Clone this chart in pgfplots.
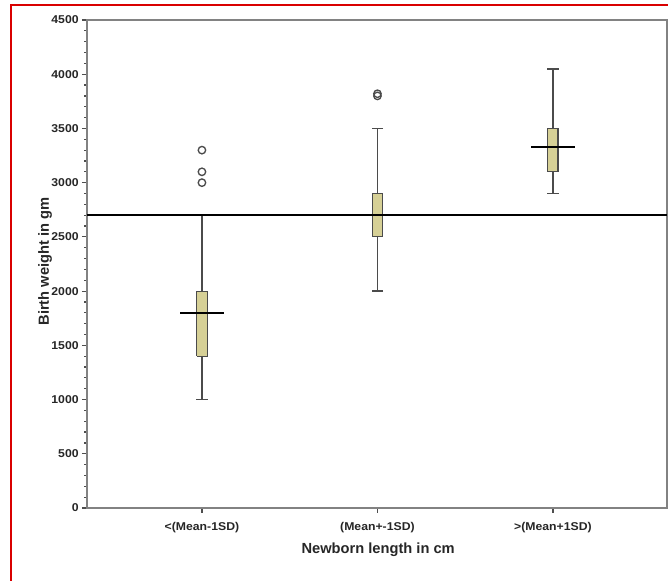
\documentclass[border=0pt]{standalone}
\usepackage{pgfplots}
\pgfplotsset{compat=1.18}
\usepackage{fontspec}
\setmainfont{Liberation Sans}
\definecolor{boxfill}{RGB}{214,208,150}
\definecolor{axgray}{RGB}{130,130,130}
\definecolor{whisk}{RGB}{75,75,75}
\begin{document}
\begin{tikzpicture}
\begin{axis}[
    scale only axis,
    width=435pt, height=366pt,
    xmin=0.345, xmax=3.65,
    ymin=0, ymax=4500,
    xtick={1,2,3},
    xticklabels={<(Mean-1SD), (Mean+-1SD), >(Mean+1SD)},
    ytick={0,500,...,4500},
    minor y tick num=4,
    xtick pos=bottom, ytick pos=left,
    tick align=outside,
    major tick length=3.75pt,
    minor tick length=2.2pt,
    every tick/.style={axgray!60!black, line width=0.9pt},
    axis line style={axgray, line width=1.3pt},
    /pgf/number format/assume math mode=true,
    /pgf/number format/1000 sep={},
    tick label style={font=\fontsize{8.5}{9}\selectfont\bfseries, text=black!85, xscale=1.08},
    yticklabel style={xshift=1.2pt},
    xticklabel style={yshift=-3.5pt},
    xlabel={Newborn length in cm},
    ylabel={Birth weight in gm},
    xlabel style={font=\fontsize{11}{13}\selectfont\bfseries, text=black!85, at={(axis description cs:0.502,0)}, anchor=center, yshift=-31pt},
    ylabel style={font=\fontsize{11}{13}\selectfont\bfseries, text=black!85, at={(axis description cs:0,0.505)}, anchor=center, yshift=31.5pt},
    clip=false,
]
% whiskers (low part, high part) for each group
\addplot[whisk, line width=1.3pt] coordinates {(1,1000) (1,1400)};
\addplot[whisk, line width=1.3pt] coordinates {(1,2000) (1,2700)};
\addplot[whisk, line width=1.3pt] coordinates {(2,2000) (2,2500)};
\addplot[whisk, line width=1.3pt] coordinates {(2,2900) (2,3500)};
\addplot[whisk, line width=1.3pt] coordinates {(3,2900) (3,3100)};
\addplot[whisk, line width=1.3pt] coordinates {(3,3500) (3,4050)};
% whisker caps
\addplot[only marks, mark=-, mark size=4.2pt, mark options={whisk, line width=1.3pt}]
    coordinates {(1,1000) (2,2000) (2,3500) (3,2900) (3,4050)};
% boxes (quartiles)
\addplot[draw=whisk, fill=boxfill, line width=0.8pt]
    coordinates {(0.971,1400) (1.029,1400) (1.029,2000) (0.971,2000) (0.971,1400)};
\addplot[draw=whisk, fill=boxfill, line width=0.8pt]
    coordinates {(1.971,2500) (2.029,2500) (2.029,2900) (1.971,2900) (1.971,2500)};
\addplot[draw=whisk, fill=boxfill, line width=0.8pt]
    coordinates {(2.971,3100) (3.029,3100) (3.029,3500) (2.971,3500) (2.971,3100)};
% outliers
\addplot[only marks, mark=o, mark size=2.8pt, mark options={whisk, line width=1pt}]
    coordinates {(1,3300) (1,3100) (1,3000) (2,3800) (2,3820)};
% medians
\addplot[only marks, mark=-, mark size=16.5pt, mark options={black, line width=1.5pt}]
    coordinates {(1,1800) (2,2700) (3,3330)};
% reference line
\addplot[black, line width=1.7pt] coordinates {(0.345,2700) (3.65,2700)};
\end{axis}
\pgfresetboundingbox
\useasboundingbox (-65.25pt,-54.75pt) rectangle (435.75pt,381pt);
\draw[red!85!black, line width=1.1pt] (-57pt,-60pt) -- (-57pt,377.25pt) -- (440pt,377.25pt);
\end{tikzpicture}
\end{document}
